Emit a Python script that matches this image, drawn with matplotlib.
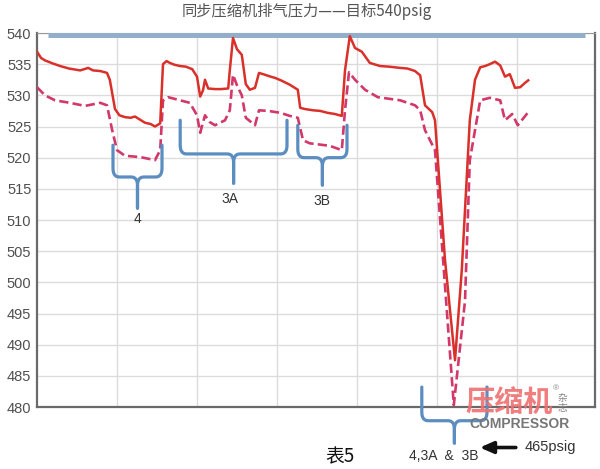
import matplotlib
matplotlib.use("Agg")
import matplotlib.pyplot as plt
import numpy as np

# ---------------- data ----------------
yticks = [480, 485, 490, 495, 500, 505, 510, 515, 520, 525, 530, 535, 540]
target = 540

solid_x = [0, 0.05, 0.1, 0.2, 0.29, 0.4, 0.54, 0.64, 0.7, 0.79,
           0.875, 0.91, 0.975, 1.03, 1.1, 1.17, 1.225, 1.3, 1.35, 1.42,
           1.475, 1.54, 1.575, 1.62, 1.66, 1.72, 1.79, 1.86, 1.94, 2.0,
           2.04, 2.075, 2.1, 2.14, 2.225, 2.3, 2.39, 2.41, 2.45, 2.5,
           2.56, 2.61, 2.66, 2.725, 2.775, 2.85, 2.92, 2.975, 3.05, 3.16,
           3.26, 3.29, 3.35, 3.45, 3.54, 3.63, 3.725, 3.81, 3.85, 3.91,
           3.975, 4.06, 4.16, 4.29, 4.4, 4.54, 4.63, 4.725, 4.79, 4.85,
           4.94, 4.975, 5.1, 5.225, 5.31, 5.41, 5.475, 5.54, 5.6, 5.66,
           5.725, 5.79, 5.85, 5.91, 5.975, 6.04, 6.1, 6.14]
solid_y = [537.0, 536.0, 535.6, 535.1, 534.7, 534.3, 534.0, 534.4, 534.0, 533.9,
           533.6, 532.5, 527.8, 526.8, 526.5, 526.4, 526.6, 526.0, 525.6, 525.4,
           525.0, 525.5, 535.0, 535.5, 535.2, 534.9, 534.7, 534.6, 534.2, 533.0,
           529.8, 530.8, 532.5, 531.1, 531.0, 531.0, 531.1, 534.0, 539.2, 537.4,
           536.5, 531.8, 530.9, 531.2, 533.6, 533.3, 533.0, 532.8, 532.4, 531.7,
           530.9, 528.0, 527.8, 527.6, 527.5, 527.2, 527.0, 526.7, 534.0, 539.5,
           537.6, 537.0, 535.2, 534.7, 534.6, 534.4, 534.3, 533.9, 533.2, 528.4,
           527.3, 526.0, 503.6, 487.5, 502.0, 526.0, 532.5, 534.5, 534.7, 535.0,
           535.4, 534.8, 533.0, 533.4, 531.2, 531.3, 532.0, 532.4]

dash_x = [0, 0.1, 0.225, 0.41, 0.6, 0.79, 0.875, 0.94, 1.0, 1.1,
          1.29, 1.475, 1.54, 1.575, 1.64, 1.79, 1.91, 2.0, 2.04, 2.1,
          2.16, 2.225, 2.35, 2.41, 2.45, 2.5, 2.56, 2.61, 2.725, 2.775,
          2.89, 3.04, 3.16, 3.26, 3.325, 3.41, 3.66, 3.81, 3.85, 3.9,
          3.975, 4.1, 4.26, 4.54, 4.725, 4.79, 4.85, 4.975, 5.21, 5.35,
          5.41, 5.475, 5.54, 5.66, 5.79, 5.85, 5.94, 6.01, 6.14]
dash_y = [531.3, 530.0, 529.2, 528.8, 528.3, 528.8, 528.4, 524.4, 521.2, 520.3,
          520.1, 519.6, 521.2, 529.2, 529.7, 529.2, 528.8, 526.8, 524.0, 526.8,
          525.7, 525.2, 526.0, 527.6, 533.3, 531.6, 530.0, 526.4, 525.2, 527.6,
          527.5, 527.2, 526.7, 526.4, 522.8, 522.3, 521.9, 521.2, 527.6, 533.7,
          532.5, 530.9, 529.7, 529.2, 528.4, 527.6, 524.4, 521.2, 480.3, 497.0,
          519.6, 524.4, 529.2, 529.6, 529.2, 526.0, 527.0, 525.2, 527.3]

# braces: label, x-left, x-right, y-top, y-bar, y-tip, label position
brace_labels = ["4", "3A", "3B", "4,3A  &  3B"]
brace_x0 = [0.95, 1.79, 3.26, 4.81]
brace_x1 = [1.5625, 3.125, 3.875, 5.625]
brace_ytop = [522.0, 526.0, 525.2, 483.2]
brace_ybar = [516.9, 520.6, 520.0, 477.8]
brace_ytip = [511.9, 515.9, 515.6, 474.2]
brace_label_y = [510.2, 513.4, 513.0, 472.2]
brace_label_x = [1.25, 2.41, 3.56, 5.09]

title = "同步压缩机排气压力——目标540psig"
arrow_text = "465psig"
fig_label = "表5"

# ---------------- plot ----------------
plt.rcParams['font.family'] = ['Liberation Sans', 'Noto Sans CJK SC', 'DejaVu Sans']

fig = plt.figure(figsize=(6.0, 4.69), dpi=100)
ax = fig.add_axes([37/600, 62/469, 558/600, 374/469])

ax.set_xlim(0, 558/80)
ax.set_ylim(480, 540)
ax.set_yticks(yticks)
ax.set_xticks(range(1, 7))
ax.set_xticklabels([])
ax.tick_params(axis='both', length=0, pad=4, labelsize=10.5, labelcolor='#505050')
ax.grid(True, color='#dcdcdc', lw=1.0)
ax.set_axisbelow(True)
for s in ['left', 'bottom', 'right']:
    ax.spines[s].set_color('#6a6a6a')
    ax.spines[s].set_linewidth(1.6)
ax.spines['top'].set_color('#9a9a9a')
ax.spines['top'].set_linewidth(0.8)

# target line
ax.plot([0.14, 6.85], [target - 0.35, target - 0.35], color='#92aecb', lw=3.6,
        solid_capstyle='butt', zorder=3)

ax.plot(dash_x, dash_y, color='#d2386a', lw=1.9, dashes=(3.5, 1.6), zorder=4)
ax.plot(solid_x, solid_y, color='#d9302a', lw=1.8, zorder=5)


def quarter(xa, ya, xb, yb, corner, n=8):
    """quadratic bezier from (xa,ya) to (xb,yb) with control point corner"""
    t = np.linspace(0, 1, n)
    cx, cy = corner
    xs = (1 - t) ** 2 * xa + 2 * (1 - t) * t * cx + t ** 2 * xb
    ys = (1 - t) ** 2 * ya + 2 * (1 - t) * t * cy + t ** 2 * yb
    return list(xs), list(ys)


bc = '#5b8dc0'
for lab, x0, x1, yt, yb, ytp, lx, ly in zip(brace_labels, brace_x0, brace_x1,
                                           brace_ytop, brace_ybar, brace_ytip,
                                           brace_label_x, brace_label_y):
    xm = (x0 + x1) / 2
    dx = 0.08
    dy = 1.4
    X, Y = [x0], [yt]
    a, b = quarter(x0, yb + dy, x0 + dx, yb, (x0, yb)); X += a; Y += b
    a, b = quarter(xm - dx, yb, xm, yb - dy, (xm, yb)); X += a; Y += b
    X += [xm]; Y += [ytp]
    ax.plot(X, Y, color=bc, lw=2.3, clip_on=False, zorder=6,
            solid_joinstyle='round', solid_capstyle='round')
    X, Y = [x1], [yt]
    a, b = quarter(x1, yb + dy, x1 - dx, yb, (x1, yb)); X += a; Y += b
    a, b = quarter(xm + dx, yb, xm, yb - dy, (xm, yb)); X += a; Y += b
    X += [xm]; Y += [ytp]
    ax.plot(X, Y, color=bc, lw=2.3, clip_on=False, zorder=6,
            solid_joinstyle='round', solid_capstyle='round')
    ax.text(lx, ly, lab, ha='center', va='center', fontsize=10,
            color='#333333', clip_on=False)

# arrow
ax.annotate("", xy=(5.5, 473.5), xytext=(6.02, 473.5),
            arrowprops=dict(arrowstyle='-|>,head_length=0.8,head_width=0.35',
                            color='#111111', lw=2.6),
            annotation_clip=False)
ax.text(6.1, 473.6, arrow_text, ha='left', va='center', fontsize=10.5,
        color='#333333', clip_on=False)

# title and label
fig.text(307/600, 1 - 12/469, title, ha='center', va='center', fontsize=11,
         color='#555555', family=['Noto Sans CJK SC', 'DejaVu Sans'])
fig.text(340/600, 1 - 457/469, fig_label, ha='center', va='center', fontsize=13.5,
         color='#111111', family=['Noto Sans CJK SC', 'DejaVu Sans'])

# watermark
fig.text(509/600, 1 - 402/469, "压缩机", ha='center', va='center', fontsize=21,
         color='#f07070', alpha=0.9, family=['Noto Sans CJK SC'], weight='bold')
fig.text(562/600, 1 - 403/469, "杂\n志", ha='center', va='center', fontsize=7,
         color='#888888', family=['Noto Sans CJK SC'], linespacing=0.9)
fig.text(556/600, 1 - 389/469, "®", ha='center', va='center', fontsize=6,
         color='#888888')
fig.text(519/600, 1 - 424/469, "COMPRESSOR", ha='center', va='center', fontsize=10,
         color='#777777', weight='bold')

fig.savefig("out.png", dpi=100)
